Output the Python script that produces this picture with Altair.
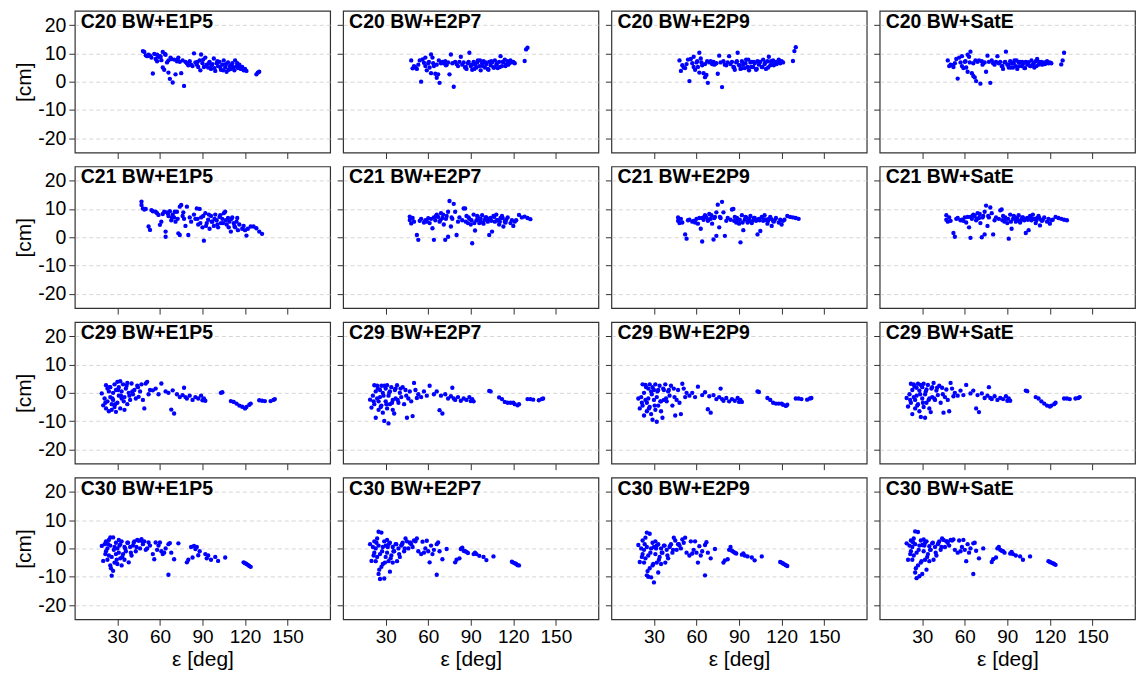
import altair as alt
import pandas as pd

FONT = "Liberation Sans"

SATS = ["C20", "C21", "C29", "C30"]
PRODUCTS = ["BW+E1P5", "BW+E2P7", "BW+E2P9", "BW+SatE"]
X_TICKS = [30, 60, 90, 120, 150]
Y_TICKS = [-20, -10, 0, 10, 20]

# ---------------- elevation angles (deg) per satellite ----------------
x_c20 = [48, 49, 50, 51, 52, 53, 54, 55, 56, 57,
         58, 58, 59, 60, 61, 62, 62, 63, 64, 65,
         66, 66, 67, 68, 69, 70, 71, 72, 73, 74,
         75, 76, 77, 78, 79, 80, 81, 82, 83, 84,
         85, 86, 87, 88, 89, 90, 91, 92, 93, 94,
         95, 96, 97, 98, 99, 100, 101, 102, 103, 104,
         105, 106, 107, 108, 109, 110, 111, 112, 113, 114,
         115, 116, 117, 118, 119, 120, 121, 128, 129, 130,
         86.5, 88.5, 90.5, 92.5, 94.5, 96.5, 98.5, 100.5, 102.5, 104.5,
         106.5, 108.5, 110.5, 112.5, 114.5, 116.5, 60.5, 63.5, 67.5, 72.5]

x_c21 = [47, 47, 48, 49, 50, 52, 53, 54, 55, 57,
         58, 59, 60, 61, 62, 63, 64, 64, 65, 66,
         67, 68, 69, 70, 71, 72, 73, 74, 74, 75,
         76, 77, 78, 79, 80, 81, 82, 84, 85, 86,
         87, 88, 89, 90, 91, 92, 93, 94, 95, 96,
         97, 98, 99, 100, 101, 102, 103, 104, 105, 106,
         107, 108, 109, 110, 111, 112, 113, 114, 115, 116,
         118, 119, 120, 121, 122, 124, 126, 128, 130, 132,
         86.5, 88.5, 90.5, 92.5, 94.5, 96.5, 98.5, 100.5, 102.5, 104.5,
         106.5, 108.5, 110.5, 112.5, 114.5, 65.5, 68.5, 70.5, 72.5, 76.5]

x_c29 = [19, 20, 21, 22, 22, 23, 23, 24, 24, 25,
         25, 26, 26, 27, 27, 28, 28, 29, 29, 30,
         30, 31, 31, 32, 32, 33, 33, 34, 35, 35,
         36, 37, 37, 38, 39, 40, 41, 42, 43, 44,
         45, 46, 47, 48, 49, 50, 51, 53, 55, 57,
         59, 61, 64, 66, 68, 69, 70, 72, 74, 76,
         77, 79, 81, 83, 85, 87, 89, 90, 91, 92,
         103, 104, 110, 112, 114, 116, 118, 120, 121, 123,
         124, 130, 132, 134, 138, 140, 141, 21.5, 24.5, 26.5,
         28.5, 30.5, 32.5, 34.5, 36.5, 38.5, 40.5, 44.5, 52, 78]

x_c30 = [19, 20, 21, 22, 22, 23, 23, 24, 24, 25,
         25, 25, 26, 26, 27, 27, 28, 28, 29, 29,
         30, 30, 31, 31, 32, 32, 33, 33, 34, 35,
         35, 36, 37, 38, 39, 40, 41, 42, 43, 44,
         45, 46, 47, 48, 49, 50, 52, 53, 55, 56,
         57, 58, 59, 60, 61, 62, 64, 66, 66, 67,
         68, 70, 73, 79, 80, 82, 83, 84, 85, 86,
         87, 88, 92, 93, 94, 96, 99, 101, 106, 119,
         120, 121, 122, 123, 124, 21.5, 23.5, 25.5, 27.5, 29.5,
         31.5, 33.5, 35.5, 37.5, 39.5, 41.5, 43.5, 47.5, 51, 63]

# ---------------- residuals (cm) ----------------
y_c20_e1p5 = [10.8, 10.5, 9.3, 9.0, 9.5, 9.2, 8.5, 2.9, 9.8, 8.0,
              9.5, 7.2, 8.8, 9.0, 7.6, 10.5, 5.0, 4.2, 9.5, 6.8,
              3.2, 7.5, 1.0, 8.0, -0.3, 7.8, 2.6, 7.2, 8.5, 7.0,
              3.0, 7.5, -1.5, 7.0, 6.5, 5.8, 7.2, 6.0, 5.5, 10.0,
              6.8, 6.0, 5.2, 7.5, 9.6, 6.5, 5.2, 8.5, 6.0, 5.0,
              7.0, 4.5, 6.2, 8.2, 3.8, 6.5, 5.5, 7.0, 4.2, 6.0,
              7.5, 5.0, 3.5, 6.8, 5.5, 4.5, 6.5, 5.0, 7.5, 5.5,
              4.8, 6.0, 4.5, 5.2, 4.0, 4.5, 3.8, 2.6, 3.2, 3.5,
              7.0, 4.0, 7.8, 5.5, 6.5, 5.8, 4.8, 7.2, 5.2, 4.0,
              6.2, 4.2, 5.8, 4.0, 6.5, 5.0, 8.8, 9.8, 8.5, 7.8]

y_c20_e2p7 = [7.5, 4.7, 5.5, 5.0, 4.5, 6.0, 7.5, 0.0, 7.9, 6.7,
              5.5, 8.5, 4.0, 6.5, 5.0, 9.6, 3.0, 8.5, 5.5, 2.8,
              1.4, 6.0, 2.6, -0.4, 6.5, 7.0, 6.5, 7.2, 6.0, 6.8,
              2.6, 9.6, 6.5, -1.8, 7.0, 6.2, 5.5, 7.0, 8.8, 6.0,
              6.8, 5.0, 4.5, 6.5, 10.2, 5.5, 4.2, 7.0, 6.0, 5.0,
              7.5, 5.5, 4.0, 6.5, 7.2, 5.0, 6.2, 4.5, 7.0, 5.8,
              6.8, 5.0, 7.5, 6.0, 4.8, 7.0, 9.0, 5.5, 6.8, 7.8,
              6.0, 7.2, 6.5, 7.5, 6.8, 7.0, 6.5, 7.3, 11.4, 12.0,
              5.2, 7.0, 6.0, 4.5, 6.8, 7.5, 5.5, 6.8, 4.2, 7.2,
              5.0, 6.5, 5.2, 7.0, 5.5, 6.0, 7.0, 6.5, 7.5, 5.8]

y_c20_e2p9 = [7.5, 3.8, 5.8, 5.0, 4.8, 6.2, 7.8, 0.2, 8.0, 6.5,
              5.2, 8.8, 4.2, 6.8, 5.2, 10.2, 3.2, 8.2, 5.8, 3.0,
              1.6, 6.2, 2.4, -0.4, 6.8, 7.2, 6.2, 7.0, 6.2, 6.5,
              2.8, 9.2, 6.8, -1.9, 7.2, 6.0, 5.8, 6.8, 9.0, 6.2,
              7.0, 5.2, 4.2, 6.8, 10.2, 5.8, 4.5, 7.2, 6.2, 4.8,
              7.8, 5.2, 4.0, 6.8, 7.0, 5.2, 6.5, 4.2, 7.2, 6.0,
              7.0, 5.2, 7.8, 6.2, 4.5, 7.2, 8.8, 5.8, 7.0, 7.5,
              6.2, 7.0, 6.8, 7.8, 6.5, 7.2, 6.8, 7.3, 10.8, 12.2,
              5.0, 7.2, 5.8, 4.8, 6.5, 7.8, 5.2, 7.0, 4.5, 7.0,
              5.2, 6.8, 5.0, 7.2, 5.8, 6.2, 7.2, 6.8, 7.2, 6.0]

y_c20_sate = [7.5, 5.5, 6.0, 5.8, 5.2, 6.5, 8.0, 1.1, 8.5, 6.8,
              5.5, 9.0, 4.8, 7.0, 5.0, 9.5, 3.5, 8.8, 10.6, 3.0,
              2.0, 6.5, 1.5, 0.2, 7.0, 7.5, -0.7, 7.2, 6.5, 6.8,
              3.5, 9.2, 7.0, -0.4, 7.5, 6.5, 6.0, 7.0, 9.0, 6.5,
              7.0, 5.5, 4.5, 6.8, 10.6, 6.0, 5.0, 7.2, 6.5, 5.0,
              7.5, 5.5, 4.5, 6.8, 7.0, 5.5, 6.2, 4.8, 7.0, 6.0,
              6.8, 5.5, 7.5, 6.0, 5.0, 7.2, 8.0, 6.0, 6.8, 7.0,
              6.2, 6.8, 6.5, 7.2, 6.5, 6.8, 6.5, 6.1, 7.5, 10.2,
              5.5, 7.0, 6.0, 5.0, 6.5, 7.5, 5.5, 7.0, 4.8, 6.8,
              5.5, 6.5, 5.5, 7.0, 6.0, 6.2, 7.2, 6.8, 7.5, 6.0]

y_c21_e1p5 = [12.6, 11.4, 10.2, 9.8, 10.0, 3.8, 2.6, 9.6, 9.2, 9.0,
              8.5, 7.9, 4.4, 5.5, 8.2, 9.0, 2.0, 0.2, 8.8, 7.5,
              9.2, 6.0, 8.0, 7.0, 5.5, 9.0, 1.4, 0.8, 10.8, 11.4,
              7.5, 6.5, 4.0, 10.8, 0.8, 7.0, 5.5, 8.0, 6.5, 10.2,
              4.5, 10.0, 7.0, 3.5, -1.2, 8.5, 5.0, 6.2, 3.0, 7.5,
              5.5, 4.0, 8.0, 6.0, 3.5, 7.2, 5.0, 6.5, 8.5, 9.0,
              4.5, 6.8, 5.5, 2.0, 7.0, 5.0, 3.5, 5.5, 2.5, 4.5,
              3.0, 4.0, 2.5, 0.6, 3.0, 3.8, 3.8, 3.2, 2.0, 1.2,
              6.5, 5.0, 7.5, 4.0, 8.0, 5.5, 6.5, 4.5, 7.8, 5.0,
              6.0, 3.5, 6.5, 4.0, 6.8, 8.5, 7.0, 9.0, 6.5, 8.8]

y_c21_e2p7 = [7.3, 6.1, 4.9, 6.8, 5.5, 0.8, -0.9, 5.8, 6.5, 5.2,
              6.0, 5.5, 6.7, 5.0, 6.5, 3.2, -0.9, 7.0, 6.0, 8.0,
              7.2, 5.5, 8.5, 6.8, 4.5, -0.9, 7.5, 0.2, 9.0, 12.8,
              3.8, 6.5, 11.8, 9.0, 0.8, 5.5, 7.0, 6.0, 10.2, 10.2,
              7.5, 5.0, 6.5, 4.5, -2.1, 8.0, 2.4, 6.0, 7.2, 5.0,
              6.5, 7.8, 4.8, 6.2, 7.0, 5.5, 0.8, 6.8, 2.0, 7.5,
              5.5, 8.0, 6.0, 4.5, 6.8, 7.5, 3.8, 5.5, 6.2, 7.0,
              5.0, 6.0, 4.0, 5.5, 6.0, 7.9, 7.0, 7.3, 6.8, 6.4,
              5.5, 7.0, 6.0, 5.0, 7.5, 6.2, 5.2, 7.0, 6.5, 5.8,
              7.2, 6.0, 5.5, 6.8, 5.2, 7.5, 6.0, 8.0, 6.5, 7.0]

y_c21_e2p9 = [7.0, 5.8, 5.0, 6.5, 5.2, 1.0, -0.5, 6.0, 6.2, 5.5,
              5.8, 5.2, 6.5, 4.8, 6.8, 3.0, -1.5, 6.8, 6.2, 7.8,
              7.0, 5.8, 8.2, 6.5, 4.8, -0.8, 7.2, 0.5, 8.8, 11.5,
              3.5, 6.8, 12.5, 8.8, 0.5, 5.8, 6.8, 6.2, 9.8, 10.0,
              7.2, 5.2, 6.2, 4.8, -1.8, 7.8, 2.5, 6.2, 7.0, 5.2,
              6.5, 7.5, 5.0, 6.0, 6.8, 5.8, 1.0, 6.5, 2.2, 7.2,
              5.8, 7.8, 6.2, 4.8, 6.5, 7.2, 4.0, 5.8, 6.0, 6.8,
              5.2, 6.2, 4.5, 5.8, 6.2, 7.5, 7.2, 7.0, 6.8, 6.5,
              5.8, 6.8, 6.2, 5.2, 7.2, 6.0, 5.5, 6.8, 6.2, 6.0,
              7.0, 6.2, 5.8, 6.5, 5.5, 7.2, 6.2, 7.8, 6.8, 7.2]

y_c21_sate = [7.8, 6.2, 5.5, 7.0, 5.8, 1.5, 0.2, 6.5, 6.8, 6.0,
              6.2, 5.8, 7.0, 5.2, 7.2, 3.5, -0.2, 7.2, 6.5, 8.0,
              7.5, 6.0, 8.5, 6.8, 5.0, 0.0, 7.5, 1.0, 9.0, 11.2,
              4.0, 7.0, 10.5, 8.5, 1.0, 6.0, 7.0, 6.5, 9.5, 9.8,
              7.5, 5.5, 6.5, 5.0, -0.5, 8.0, 3.0, 6.5, 7.2, 5.5,
              6.8, 7.8, 5.2, 6.2, 7.0, 6.0, 1.5, 6.8, 2.5, 7.5,
              6.0, 8.0, 6.5, 5.0, 6.8, 7.5, 4.2, 6.0, 6.2, 7.0,
              5.5, 6.5, 4.8, 6.0, 6.2, 7.2, 6.8, 6.5, 6.2, 6.0,
              6.0, 7.0, 6.5, 5.5, 7.5, 6.2, 5.8, 7.0, 6.5, 6.2,
              7.2, 6.5, 6.0, 6.8, 5.8, 7.5, 6.5, 8.2, 7.0, 7.5]

y_c29_e1p5 = [-0.2, -4.4, -2.0, 2.7, -5.5, 1.5, -3.0, -6.5, 0.5, -1.5,
              2.0, -4.0, -6.0, 0.0, -2.5, 3.0, -5.0, -6.7, 1.0, 3.9,
              -3.5, -1.0, 2.0, 4.1, -5.5, -2.0, 0.5, 3.0, -6.0, -1.5,
              1.5, -4.0, 3.5, 0.0, -2.5, 3.3, -0.5, 1.0, -2.0, 2.5,
              -1.4, 0.5, 3.0, -2.5, -5.5, 3.3, 3.9, 1.0, 0.9, 1.5,
              -0.5, 3.3, 0.5, 0.0, -5.9, 0.9, -7.3, -0.5, -1.5, -0.8,
              1.8, -2.0, -1.0, -2.5, -1.5, -2.0, -1.0, -2.6, -2.0, -2.8,
              0.0, 0.2, -2.9, -3.2, -3.8, -4.5, -4.9, -5.5, -5.0, -4.2,
              -3.8, -2.6, -2.8, -2.9, -2.9, -2.5, -2.2, -3.5, 2.0, -2.0,
              -4.0, 1.0, -1.0, -3.0, 2.5, -1.0, 0.5, 2.0, -0.5, -1.5]

y_c29_e2p7 = [-2.4, -5.2, -1.0, 2.7, -4.0, -8.8, 0.5, -2.0, 2.5, -6.0,
              -3.0, 1.0, -1.5, 2.5, -4.5, 0.0, -7.0, -9.9, 2.5, -3.0,
              1.5, -5.5, 2.7, -10.8, -1.0, 0.5, -4.0, 2.0, -2.5, -6.0,
              -7.3, 1.5, -2.0, 2.7, -3.5, 0.0, -1.5, 2.0, -4.0, 1.0,
              -8.8, -2.0, 0.5, -3.0, -8.2, 3.5, 1.0, -0.5, -1.5, 0.5,
              -1.0, 2.5, -0.5, 0.5, -6.1, -1.0, -7.3, -0.5, -2.0, -1.2,
              1.8, -2.5, -1.5, -2.8, -2.0, -2.5, -1.5, -2.9, -2.2, -3.0,
              0.7, 0.5, -1.6, -2.2, -3.2, -3.5, -3.5, -3.5, -4.0, -4.4,
              -4.0, -2.2, -2.2, -2.4, -2.6, -2.2, -2.0, -3.0, 1.5, -5.0,
              -1.0, -4.0, 0.0, -3.5, 1.0, -2.5, 1.5, -1.0, -1.8, -2.0]

y_c29_e2p9 = [-2.0, -5.5, -1.5, 3.0, -4.5, -8.0, 0.0, -2.5, 2.8, -6.5,
              -3.5, 1.5, -2.0, 3.0, -5.0, 0.5, -7.5, -9.5, 2.0, -2.5,
              1.0, -6.0, 3.0, -10.2, -1.5, 1.0, -4.5, 2.5, -3.0, -6.5,
              -8.8, 1.0, -2.5, 3.0, -3.0, 0.5, -1.0, 2.5, -4.5, 1.5,
              -8.0, -2.5, 1.0, -3.5, -7.5, 3.2, 1.5, 0.0, -1.0, 0.0,
              -1.5, 2.2, -0.8, 0.2, -5.8, -1.2, -7.0, -0.8, -2.2, -1.5,
              1.5, -2.8, -1.8, -3.0, -2.2, -2.8, -1.8, -3.2, -2.5, -3.2,
              0.5, 0.3, -1.8, -2.5, -3.5, -3.8, -3.8, -3.8, -4.2, -4.6,
              -4.2, -2.0, -2.0, -2.2, -2.4, -2.0, -1.8, -3.5, 2.0, -5.5,
              -0.5, -4.5, 0.5, -3.0, 1.5, -2.0, 1.0, -1.5, -1.5, -2.2]

y_c29_sate = [-1.8, -4.8, -0.5, 3.2, -3.5, -7.5, 1.0, -1.5, 3.0, -5.5,
              -2.5, 1.8, -1.0, 3.2, -4.0, 0.8, -6.5, -8.5, 2.8, -2.0,
              2.0, -5.0, 3.2, -8.8, -0.5, 1.2, -3.5, 2.8, -2.0, -5.5,
              -6.8, 2.0, -1.5, 3.5, -2.5, 0.8, -0.8, 2.5, -3.5, 1.8,
              -7.0, -1.5, 1.2, -2.5, -6.5, 3.5, 1.5, 0.0, -1.0, 0.8,
              -0.8, 2.8, -0.2, 0.8, -5.5, -0.8, -6.8, -0.2, -1.8, -1.0,
              2.0, -2.2, -1.2, -2.5, -1.8, -2.2, -1.2, -2.8, -2.0, -2.8,
              0.8, 0.6, -1.5, -2.0, -3.0, -3.8, -4.5, -4.8, -4.5, -4.0,
              -3.5, -2.0, -2.0, -2.2, -2.0, -1.8, -1.5, -2.5, 2.2, -4.5,
              -0.5, -3.5, 0.5, -2.5, 1.5, -2.0, 1.8, -0.5, -1.2, -1.8]

y_c30_e1p5 = [0.9, -4.4, 1.5, -1.0, 2.5, -4.0, 0.0, 3.0, -2.5, 3.9,
              -6.0, 1.0, -9.6, -3.0, 3.9, -7.9, 0.5, -5.0, 2.0, -2.0,
              -5.5, 0.0, -1.5, 3.0, -3.5, 1.5, -6.0, 2.5, -2.0, 0.5,
              -4.0, -1.0, 2.0, -4.9, 0.5, -2.5, 1.0, 2.5, -1.0, 3.0,
              2.7, 0.0, 3.3, 1.5, 2.5, -0.5, 2.1, 1.0, -2.0, -3.8,
              2.1, -0.5, 1.0, 2.1, -1.0, -2.0, 0.0, 1.5, -9.3, 1.9,
              -1.5, -3.8, 1.8, -4.9, -4.0, 0.5, -3.2, 0.9, -0.2, 0.5,
              -2.4, -1.0, -2.0, -3.5, -2.5, -4.0, -3.0, -4.4, -3.2, -4.9,
              -5.2, -5.5, -5.8, -6.2, -6.5, -2.0, 1.5, -7.0, -0.5, -4.0,
              1.0, -3.0, 0.0, 2.0, -1.5, 2.0, 0.5, 2.5, 0.0, -1.5]

y_c30_e2p7 = [1.5, -4.4, 0.5, -1.5, 2.5, -4.5, 0.0, 3.5, -3.0, 5.9,
              -9.0, 1.0, -10.8, -2.0, 5.6, -6.5, 0.5, -5.5, 2.5, -10.6,
              -3.0, 1.0, -1.5, 3.0, -4.5, 1.5, -8.2, 2.0, -2.5, 0.5,
              -5.0, -1.0, 1.5, -4.5, 0.0, -3.0, 1.0, 2.0, -1.0, 3.5,
              2.5, 0.0, 2.0, 1.5, 0.5, 2.8, 3.5, -1.0, -2.0, 2.4,
              -1.5, 0.0, 2.7, -1.0, -4.9, 1.0, -0.5, 1.5, -9.3, 2.1,
              -1.0, -3.8, -0.2, -4.9, -4.0, -3.5, -0.2, 0.3, -0.8, -1.0,
              -1.2, -1.6, -2.0, -1.5, -2.0, -2.6, -3.0, -4.1, -2.8, -4.7,
              -5.0, -5.2, -5.5, -5.9, -6.0, -2.5, 2.0, -7.5, -1.0, -5.0,
              0.5, -3.5, -1.0, 1.5, -2.0, 1.5, 0.0, 2.0, 2.5, -2.0]

y_c30_e2p9 = [1.2, -4.8, 0.0, -2.0, 2.8, -5.0, -0.5, 3.8, -3.5, 5.6,
              -9.5, 0.5, -10.0, -2.5, 5.2, -7.0, 0.0, -10.2, 2.0, -6.0,
              -12.0, 0.5, -2.0, 2.5, -5.0, 1.0, -8.5, 1.5, -3.0, 0.0,
              -5.5, -1.5, 1.0, -5.0, -0.5, -3.5, 0.5, 1.5, -1.5, 3.8,
              2.8, -0.5, 1.5, 1.0, 0.0, 3.2, 3.8, -1.5, -2.5, 2.5,
              -1.8, -0.5, 2.5, -1.5, -5.0, 0.8, -1.0, 1.2, -9.5, 2.2,
              -1.5, -3.5, -0.2, -5.0, -4.2, -3.8, -0.5, 0.5, -0.8, -1.2,
              -1.5, -1.8, -2.2, -1.8, -2.5, -2.8, -3.2, -4.2, -2.8, -4.8,
              -5.0, -5.3, -5.6, -5.9, -6.2, -3.0, 1.5, -8.0, -1.5, -5.5,
              0.0, -4.0, -1.5, 1.0, -2.5, 1.0, -0.5, 1.5, 2.0, -2.5]

y_c30_sate = [1.8, -4.0, 1.0, -1.0, 2.8, -4.0, 0.5, 3.5, -2.5, 6.0,
              -8.5, 1.5, -10.5, -1.5, 5.8, -6.0, 1.0, -9.8, 2.8, -5.0,
              -9.0, 1.2, -1.0, 3.2, -4.0, 2.0, -7.5, 2.5, -2.0, 0.8,
              -4.5, -0.5, 1.8, -4.0, 0.5, -2.5, 1.5, 2.5, -0.5, 3.5,
              3.0, 0.5, 2.5, 2.0, 1.0, 3.0, 3.2, -0.5, -1.5, 2.8,
              -1.0, 0.5, 3.0, -0.5, -4.5, 1.5, 0.0, 1.8, -9.0, 2.0,
              -0.8, -3.5, 0.0, -4.8, -3.8, -3.2, 0.0, 0.5, -0.5, -0.8,
              -1.0, -1.5, -1.8, -1.2, -2.0, -2.5, -2.8, -4.0, -2.8, -4.5,
              -4.8, -5.0, -5.2, -5.5, -5.8, -2.0, 2.2, -7.0, -0.5, -4.5,
              1.0, -3.0, -0.5, 2.0, -1.5, 2.0, 0.5, 2.5, 2.8, -1.5]

ELEV = {"C20": x_c20, "C21": x_c21, "C29": x_c29, "C30": x_c30}
RESID = {
    "C20": [y_c20_e1p5, y_c20_e2p7, y_c20_e2p9, y_c20_sate],
    "C21": [y_c21_e1p5, y_c21_e2p7, y_c21_e2p9, y_c21_sate],
    "C29": [y_c29_e1p5, y_c29_e2p7, y_c29_e2p9, y_c29_sate],
    "C30": [y_c30_e1p5, y_c30_e2p7, y_c30_e2p9, y_c30_sate],
}

W, H = 256, 142


def panel(r, c):
    sat = SATS[r]
    prod = PRODUCTS[c]
    df = pd.DataFrame({"e": ELEV[sat], "d": RESID[sat][c]})
    bottom = r == len(SATS) - 1
    left = c == 0

    xkw = dict(values=X_TICKS, labels=bottom, grid=False, domain=False,
               tickSize=6, tickColor="#333333", tickWidth=1,
               labelFont=FONT, labelFontSize=19, labelColor="black",
               labelPadding=2)
    if bottom:
        xkw.update(title="ε [deg]", titleFont=FONT, titleFontSize=21,
                   titleFontWeight="normal", titleColor="black",
                   titlePadding=2)
    else:
        xkw.update(title=None)

    ykw = dict(values=Y_TICKS, labels=left, grid=True, domain=False,
               gridColor="#cccccc", gridDash=[4, 3], gridWidth=0.8,
               tickSize=6, tickColor="#333333", tickWidth=1,
               labelFont=FONT, labelFontSize=19.5, labelColor="black",
               labelPadding=3, labelExpr="'' + datum.value")
    if left:
        ykw.update(title="[cm]", titleFont=FONT, titleFontSize=21,
                   titleFontWeight="normal", titleColor="black",
                   titlePadding=3)
    else:
        ykw.update(title=None)

    pts = alt.Chart(df).mark_circle(size=19, color="#0000ff", opacity=1).encode(
        x=alt.X("e:Q", scale=alt.Scale(domain=[0, 180], nice=False, zero=False),
                axis=alt.Axis(**xkw)),
        y=alt.Y("d:Q", scale=alt.Scale(domain=[-25, 25], nice=False, zero=False),
                axis=alt.Axis(**ykw)),
    )
    label = alt.Chart(pd.DataFrame({"t": [f"{sat} {prod}"]})).mark_text(
        align="left", baseline="alphabetic", font=FONT, fontSize=19.5,
        fontWeight="bold", color="black"
    ).encode(text="t:N", x=alt.value(6), y=alt.value(17))
    return alt.layer(pts, label).properties(width=W, height=H)


charts = [panel(r, c) for r in range(len(SATS)) for c in range(len(PRODUCTS))]

chart = alt.concat(
    *charts, columns=4, spacing={"row": 14, "column": 13}, bounds="flush"
).properties(
    padding={"left": 5, "top": 1, "right": 0, "bottom": 0}
).configure_view(
    stroke="#333333", strokeWidth=1.2
)

chart.save("out.html", embed_options={"renderer": "svg", "actions": False})
